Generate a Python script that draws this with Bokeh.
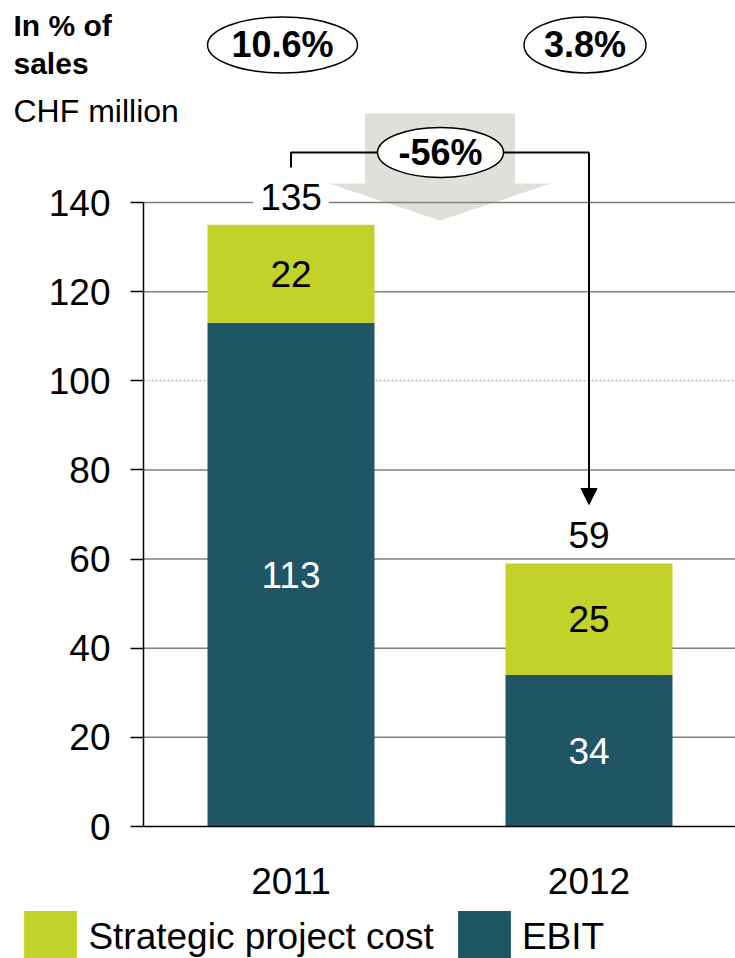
from bokeh.plotting import figure
from bokeh.models import (Range1d, FixedTicker, ColumnDataSource, LinearAxis,
                          Label, Legend, LegendItem, Arrow, NormalHead)
from bokeh.core.properties import value
from bokeh.embed import file_html
from bokeh.resources import INLINE

# ---- data ----
years = ["2011", "2012"]
ebit = [113, 34]
strategic = [22, 25]
pct_sales = ["10.6%", "3.8%"]
change_label = "-56%"
y_ticks = [0, 20, 40, 60, 80, 100, 120, 140]

totals = [e + s for e, s in zip(ebit, strategic)]
xpos = list(range(len(years)))

FONT = "Liberation Sans"
GREEN = "#c2d22b"
TEAL = "#1f5564"

W, H = 735, 958
# mapping: 298 px per category step, first category centre at x=290.5 px;
# value 0 at y=826 px, 4.4571 px per unit
X_STEP, X0 = 298.0, 290.5
Y_UNIT, Y0 = 624 / 140.0, 826.0
x_start, x_end = -X0 / X_STEP, (W - X0) / X_STEP
y_start, y_end = (Y0 - H) / Y_UNIT, Y0 / Y_UNIT
axis_x = (143 - X0) / X_STEP

p = figure(width=W, height=H, title=None,
           x_range=Range1d(x_start, x_end), y_range=Range1d(y_start, y_end),
           x_axis_location=None, y_axis_location=None,
           output_backend="svg", toolbar_location=None, min_border=0)
p.outline_line_color = None
p.background_fill_color = "white"
p.border_fill_color = "white"
for g in p.grid:
    g.visible = False

# axes (fixed in the data space)
ya = LinearAxis(fixed_location=axis_x, ticker=FixedTicker(ticks=y_ticks), bounds=(0, 140))
ya.axis_line_color = "black"
ya.axis_line_width = 1.5
ya.major_tick_out = 13
ya.major_tick_in = 0
ya.minor_tick_out = 0
ya.minor_tick_in = 0
ya.major_tick_line_color = "black"
ya.major_tick_line_width = 1.5
ya.major_label_standoff = 20
ya.major_label_text_font_size = "37px"
ya.major_label_text_font = FONT
ya.major_label_text_color = "black"
p.add_layout(ya, "left")

xa = LinearAxis(fixed_location=0, ticker=FixedTicker(ticks=xpos), bounds=(axis_x, x_end),
                major_label_overrides={i: y for i, y in zip(xpos, years)})
xa.axis_line_color = "black"
xa.axis_line_width = 1.5
xa.major_tick_out = 0
xa.major_tick_in = 0
xa.minor_tick_out = 0
xa.minor_tick_in = 0
xa.major_label_standoff = 41
xa.major_label_text_font_size = "37px"
xa.major_label_text_font = FONT
xa.major_label_text_color = "black"
p.add_layout(xa, "below")

# horizontal gridlines from the axis to the right edge
grid_solid = [t for t in y_ticks if t not in (0, 100)]
p.segment(x0=[axis_x] * len(grid_solid), x1=[x_end] * len(grid_solid),
          y0=grid_solid, y1=grid_solid, line_color="#808080", line_width=1.5,
          level="underlay")
p.segment(x0=[axis_x], x1=[x_end], y0=[100], y1=[100], line_color="#a0a0a0",
          line_width=1, line_dash="2 2", level="underlay")

# background gray arrow (between the two years)
cx = 0.5
shaft_half, head_half = 0.2517, 0.3725
y_shaft_top, y_head_base, y_tip = 159.97, 144.27, 135.97
p.patch(x=[cx - shaft_half, cx + shaft_half, cx + shaft_half, cx + head_half, cx,
           cx - head_half, cx - shaft_half],
        y=[y_shaft_top, y_shaft_top, y_head_base, y_head_base, y_tip, y_head_base, y_head_base],
        fill_color="#e0dfda", line_color=None, level="image")

# bars
LABEL_GAP = 6.0  # value units between bar top and centre of total label
src = ColumnDataSource(dict(
    x=xpos, ebit=ebit, strategic=strategic, total=totals,
    zero=[0] * len(years),
    ebit_mid=[e / 2 for e in ebit],
    spc_mid=[e + s / 2 for e, s in zip(ebit, strategic)],
    total_lab=[t + LABEL_GAP for t in totals],
    ebit_txt=[str(v) for v in ebit],
    spc_txt=[str(v) for v in strategic],
    total_txt=[str(v) for v in totals],
))
BW = 167 / X_STEP
r_ebit = p.vbar(x="x", bottom="zero", top="ebit", width=BW, source=src,
                fill_color=TEAL, line_color=None)
r_spc = p.vbar(x="x", bottom="ebit", top="total", width=BW, source=src,
               fill_color=GREEN, line_color=None)

p.text(x="x", y="ebit_mid", text="ebit_txt", source=src, text_color="white",
       text_align="center", text_baseline="middle", text_font_size="37px",
       text_font=value(FONT))
p.text(x="x", y="spc_mid", text="spc_txt", source=src, text_color="black",
       text_align="center", text_baseline="middle", text_font_size="37px",
       text_font=value(FONT))
p.text(x="x", y="total_lab", text="total_txt", source=src, text_color="black",
       text_align="center", text_baseline="middle",
       text_font_size="37px", text_font=value(FONT),
       background_fill_color="white",
       padding=dict(left=7, right=7, top=2, bottom=5))

# bracket with change
y_br = 151.22
p.line(x=[xpos[0], xpos[0], xpos[1]], y=[147.85, y_br, y_br], line_color="black", line_width=2)
p.add_layout(Arrow(end=NormalHead(size=16, fill_color="black", line_color="black"),
                   x_start=xpos[1], y_start=y_br, x_end=xpos[1], y_end=72.24,
                   line_color="black", line_width=2))
p.ellipse(x=[0.5017], y=[y_br], width=[126], height=[50],
          width_units="screen", height_units="screen",
          fill_color="white", line_color="black", line_width=1.5)
p.text(x=[0.5017], y=[y_br], text=[change_label], text_align="center",
       text_baseline="middle", text_font_size="36px", text_font_style="bold",
       text_font=value(FONT), text_color="black")

# % of sales ellipses
pct_x = [-0.0285, 0.9866]
pct_y = [175.34, 175.34]
p.ellipse(x=pct_x, y=pct_y, width=[150, 122], height=[56, 56],
          width_units="screen", height_units="screen",
          fill_color="white", line_color="black", line_width=1.5)
p.text(x=pct_x, y=pct_y, text=pct_sales, text_align="center", text_baseline="middle",
       text_font_size="36px", text_font_style="bold", text_font=value(FONT),
       text_color="black")

# left texts
lx = (13 - X0) / X_STEP
p.add_layout(Label(x=lx, y=179.6, text="In % of", text_font_size="30px",
                   text_font_style="bold", text_font=FONT, text_baseline="middle",
                   text_color="black"))
p.add_layout(Label(x=lx, y=171.1, text="sales", text_font_size="30px",
                   text_font_style="bold", text_font=FONT, text_baseline="middle",
                   text_color="black"))
p.add_layout(Label(x=lx, y=160.5, text="CHF million", text_font_size="32px",
                   text_font=FONT, text_baseline="middle", text_color="black"))

# legend
legend = Legend(items=[LegendItem(label="Strategic project cost", renderers=[r_spc]),
                       LegendItem(label="EBIT", renderers=[r_ebit])],
                orientation="horizontal", location=(17.4, -12.4),
                glyph_width=66, glyph_height=66, label_standoff=5, spacing=17,
                padding=0, margin=0, border_line_color=None,
                background_fill_alpha=0, label_text_font_size="37px",
                label_text_font=FONT, label_text_color="black")
p.add_layout(legend)

open("out.html", "w").write(file_html(p, INLINE))
